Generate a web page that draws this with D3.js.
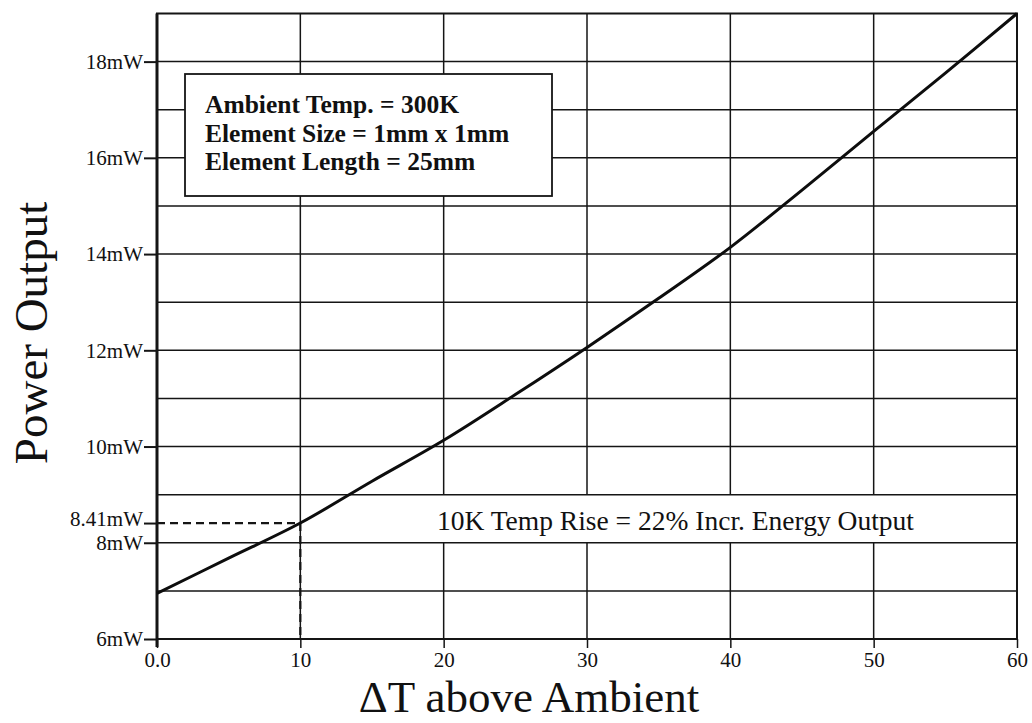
<!DOCTYPE html>
<html>
<head>
<meta charset="utf-8">
<script src="https://cdn.jsdelivr.net/npm/d3@7"></script>
<style>
  body { margin: 0; background: #fff; }
  svg { display: block; }
  .chart text { font-family: "Liberation Serif", "Times New Roman", serif; fill: #111; }
</style>
</head>
<body>
<div class="chart"></div>
<script>
// data
const deltaT = [0, 5, 10, 15, 20, 25, 30, 35, 40, 45, 50, 55, 60];
const powerMW = [6.95, 7.68, 8.41, 9.28, 10.13, 11.08, 12.06, 13.08, 14.14, 15.33, 16.55, 17.76, 19.0];

const xTicks = [0, 10, 20, 30, 40, 50, 60];
const xTickLabels = ['0.0', '10', '20', '30', '40', '50', '60'];
const yTicks = [6, 8, 8.41, 10, 12, 14, 16, 18];
const yTickLabels = ['6mW', '8mW', '8.41mW', '10mW', '12mW', '14mW', '16mW', '18mW'];
const yGrid = [7, 8, 9, 10, 11, 12, 13, 14, 15, 16, 17, 18];

const infoLines = ['Ambient Temp. = 300K', 'Element Size = 1mm x 1mm', 'Element Length = 25mm'];
const noteText = '10K Temp Rise = 22% Incr. Energy Output';
const markT = 10, markP = 8.41;

const width = 1032, height = 723;
const plotL = 157, plotR = 1017, plotT = 13.5, plotB = 639;

const svg = d3.select('.chart')
    .append('svg')
    .attr('width', width)
    .attr('height', height);

svg.append('rect').attr('width', width).attr('height', height).attr('fill', '#fff');

const x = d3.scaleLinear().domain([0, 60]).range([plotL, plotR]);
const y = d3.scaleLinear().domain([6, 19]).range([plotB, plotT]);

const ink = '#151515';

// vertical grid
svg.append('g')
    .selectAll('line')
    .data(xTicks.slice(1, -1))
    .join('line')
    .attr('x1', d => x(d)).attr('x2', d => x(d))
    .attr('y1', plotT).attr('y2', plotB)
    .attr('stroke', ink).attr('stroke-width', 1.5);

// white band behind the note (hides vertical grid there)
svg.append('rect')
    .attr('x', x(markT) + 2)
    .attr('y', y(9))
    .attr('width', x(60) - x(markT) - 2)
    .attr('height', y(8) - y(9))
    .attr('fill', '#fff');

// horizontal grid
svg.append('g')
    .selectAll('line')
    .data(yGrid)
    .join('line')
    .attr('x1', plotL).attr('x2', plotR)
    .attr('y1', d => y(d)).attr('y2', d => y(d))
    .attr('stroke', ink).attr('stroke-width', 1.5);

// frame
svg.append('rect')
    .attr('x', plotL).attr('y', plotT)
    .attr('width', plotR - plotL).attr('height', plotB - plotT)
    .attr('fill', 'none').attr('stroke', ink).attr('stroke-width', 2);
svg.append('line')
    .attr('x1', plotL).attr('x2', plotL).attr('y1', plotT).attr('y2', plotB + 8)
    .attr('stroke', ink).attr('stroke-width', 3);

// y axis
const yAxis = d3.axisLeft(y)
    .tickValues(yTicks)
    .tickFormat((d, i) => yTickLabels[i])
    .tickSize(13)
    .tickPadding(1);

const gy = svg.append('g')
    .attr('transform', `translate(${plotL},0)`)
    .call(yAxis);
gy.select('.domain').remove();
gy.selectAll('line').attr('stroke', ink).attr('stroke-width', 2);
gy.selectAll('text')
    .style('font-size', '21px')
    .attr('fill', ink)
    .attr('dy', d => d === markP ? '0.12em' : '0.32em');

// x axis
const xAxis = d3.axisBottom(x)
    .tickValues(xTicks)
    .tickFormat((d, i) => xTickLabels[i])
    .tickSize(9)
    .tickPadding(4);

const gx = svg.append('g')
    .attr('transform', `translate(0,${plotB})`)
    .call(xAxis);
gx.select('.domain').remove();
gx.selectAll('line').attr('stroke', ink).attr('stroke-width', 1.5);
gx.selectAll('text')
    .style('font-size', '21px')
    .attr('fill', ink);

// dashed marker at 10K
svg.append('path')
    .attr('d', `M${x(0)},${y(markP)}H${x(markT)}M${x(markT)},${y(markP)}V${plotB}`)
    .attr('fill', 'none')
    .attr('stroke', ink)
    .attr('stroke-width', 2.2)
    .attr('stroke-dasharray', '8,5');

// curve
const line = d3.line()
    .x((d, i) => x(deltaT[i]))
    .y(d => y(d))
    .curve(d3.curveCatmullRom.alpha(0.5));

svg.append('path')
    .datum(powerMW)
    .attr('d', line)
    .attr('fill', 'none')
    .attr('stroke', '#0d0d0d')
    .attr('stroke-width', 3);

// info box
svg.append('rect')
    .attr('x', 185).attr('y', 74)
    .attr('width', 367).attr('height', 122)
    .attr('fill', '#fff')
    .attr('stroke', ink).attr('stroke-width', 1.8);

svg.append('g')
    .selectAll('text')
    .data(infoLines)
    .join('text')
    .attr('x', 205)
    .attr('y', (d, i) => 113 + i * 28.5)
    .style('font-size', '25.5px')
    .style('font-weight', 'bold')
    .text(d => d);

// note
svg.append('text')
    .attr('x', 437)
    .attr('y', 530)
    .style('font-size', '27.5px')
    .text(noteText);

// axis titles
svg.append('text')
    .attr('x', 529)
    .attr('y', 712)
    .attr('text-anchor', 'middle')
    .style('font-size', '45px')
    .text('\u0394T above Ambient');

svg.append('text')
    .attr('transform', 'translate(47,333) rotate(-90)')
    .attr('text-anchor', 'middle')
    .style('font-size', '47px')
    .text('Power Output');
</script>
</body>
</html>
